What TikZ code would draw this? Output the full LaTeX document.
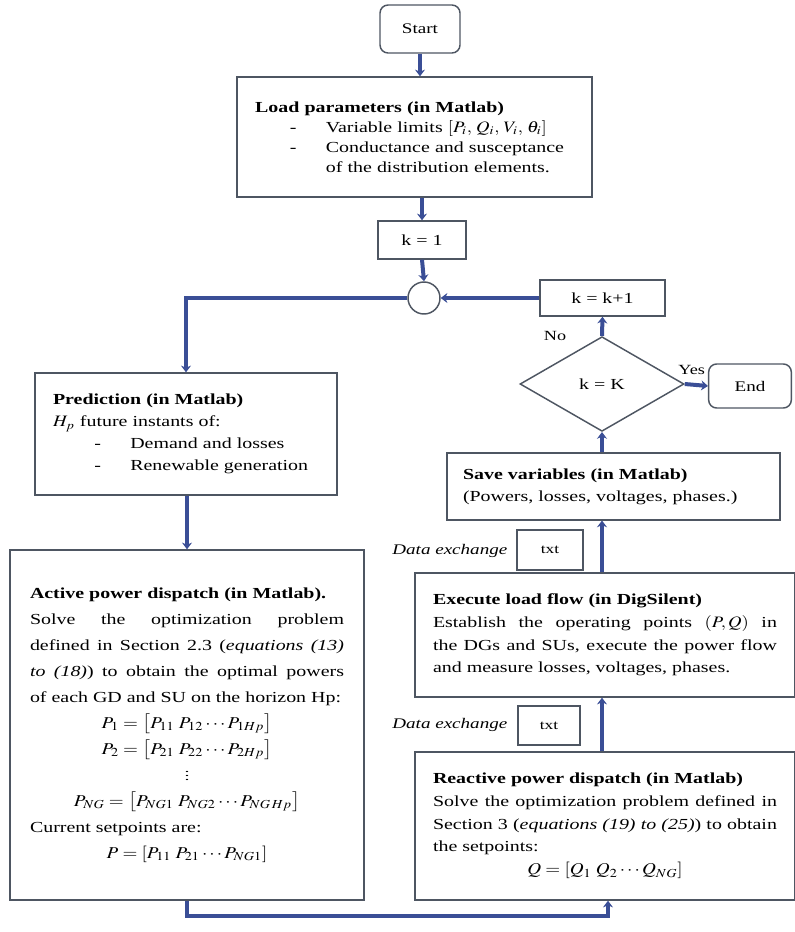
\documentclass[tikz,border=0pt]{standalone}
\usepackage{mathptmx}
\usepackage{fontspec}
\setmainfont{Liberation Serif}[FakeStretch=1.3]
\usetikzlibrary{shapes.geometric, arrows.meta}

\definecolor{flowblue}{RGB}{58,78,150}
\definecolor{boxgrey}{RGB}{78,86,98}

\tikzstyle{startstop} = [rectangle, rounded corners=6pt, minimum width=60pt, minimum height=36pt, text centered, draw=boxgrey, line width=1.1pt, font=\fontsize{11}{13}\selectfont]
\tikzstyle{process} = [rectangle, draw=boxgrey, line width=1.1pt, fill=white, font=\fontsize{11.5}{17}\selectfont]
\tikzstyle{decision} = [diamond, aspect=1.73, minimum width=123pt, minimum height=71pt, inner sep=0pt, draw=boxgrey, line width=1.1pt, font=\fontsize{11.5}{14}\selectfont]
\tikzstyle{junction} = [circle, minimum size=24pt, inner sep=0pt, draw=boxgrey, line width=1.1pt]
\tikzstyle{note} = [font=\fontsize{11}{13}\selectfont\itshape]
\tikzstyle{arrow} = [line width=3pt, draw=flowblue, -{Stealth[length=5pt,width=7.5pt]}]

\newcommand{\listdash}[1]{\hspace*{#1}\makebox[27pt][l]{-}}
% wide math, to sit with the stretched text face
\newcommand{\wm}[1]{\scalebox{1.22}[1.04]{$#1$}}
\newcommand{\eqline}[1]{\centerline{\scalebox{1.25}[1.08]{$#1$}}}

\begin{document}
\begin{tikzpicture}[x=0.75pt, y=-0.75pt]
\useasboundingbox (0,0) rectangle (795,932);

% main column
\node (start) [startstop] at (420,29) {Start};
\node (load) [process, text width=239pt, inner xsep=13.5pt, minimum height=90pt, align=left, font=\fontsize{11.5}{15}\selectfont] at (414.5,137)
  {\textbf{Load parameters (in Matlab)}\\
   \listdash{26pt}Variable limits \wm{[P_i,\, Q_i,\, V_i,\, \theta_i]}\\
   \listdash{26pt}Conductance and susceptance\\
   \hspace*{53pt}of the distribution elements.};
\node (k1) [process, minimum width=66pt, minimum height=28.5pt] at (422,240) {k = 1};
\node (circ) [junction] at (424,298) {};

% left branch
\node (pred) [process, text width=199.5pt, inner xsep=13.5pt, minimum height=91.5pt, align=left, font=\fontsize{11.5}{16.5}\selectfont] at (186,434)
  {\textbf{Prediction (in Matlab)}\\
   \wm{H_p} future instants of:\\
   \listdash{31pt}Demand and losses\\
   \listdash{31pt}Renewable generation};
\node (active) [process, text width=235.5pt, inner xsep=15pt, minimum height=262.5pt, align=justify, font=\fontsize{11.5}{19.5}\selectfont] at (187,725)
  {\textbf{Active power dispatch (in Matlab).}\\
   Solve the optimization problem\linebreak
   defined in Section 2.3 (\textit{equations (13)\linebreak
   to (18)}) to obtain the optimal powers\linebreak
   of each GD and SU on the horizon Hp:\par
   \eqline{P_1 = \bigl[P_{11}\; P_{12} \cdots P_{1Hp}\bigr]}
   \eqline{P_2 = \bigl[P_{21}\; P_{22} \cdots P_{2Hp}\bigr]}
   \centerline{\scalebox{1}[0.75]{$\vdots$}}
   \eqline{P_{NG} = \bigl[P_{NG1}\; P_{NG2} \cdots P_{NG\,Hp}\bigr]}
   Current setpoints are:\par
   \eqline{P = [P_{11}\; P_{21} \cdots P_{NG1}]}};

% right branch
\node (kk) [process, minimum width=94pt, minimum height=27pt] at (602.5,298) {k = k+1};
\node (dec) [decision] at (602,384) {k = K};
\node (endn) [startstop, minimum width=62pt, minimum height=33pt] at (750,386) {End};
\node (save) [process, text width=225.75pt, inner xsep=12pt, minimum height=50pt, align=left, font=\fontsize{11.5}{16.5}\selectfont] at (613.5,486.5)
  {\textbf{Save variables (in Matlab)}\\
   (Powers, losses, voltages, phases.)};
\node (txta) [process, minimum width=49.5pt, minimum height=30pt, font=\fontsize{10}{12}\selectfont] at (550,550) {txt};
\node (dxa) [note, anchor=east] at (512,551) {Data exchange};
\node (exec) [process, text width=258pt, inner xsep=13.5pt, minimum height=93pt, align=justify, font=\fontsize{11.5}{17}\selectfont] at (605,635)
  {\textbf{Execute load flow (in DigSilent)}\\
   Establish the operating points \wm{(P, Q)} in\linebreak
   the DGs and SUs, execute the power flow\linebreak
   and measure losses, voltages, phases.};
\node (txtb) [process, minimum width=46.5pt, minimum height=29pt, font=\fontsize{10}{12}\selectfont] at (549,725.5) {txt};
\node (dxb) [note, anchor=east] at (512,725) {Data exchange};
\node (react) [process, text width=258pt, inner xsep=13.5pt, minimum height=111pt, align=justify, font=\fontsize{11.5}{17}\selectfont] at (605,826)
  {\textbf{Reactive power dispatch (in Matlab)}\\
   Solve the optimization problem defined in Section 3 (\textit{equations (19) to (25)}) to obtain the setpoints:\par
   \eqline{Q = [Q_1\; Q_2 \cdots Q_{NG}]}};

% connectors
\draw [arrow] (start.south) -- (start.south |- load.north);
\draw [arrow] (k1.north |- load.south) -- (k1.north);
\draw [arrow] (k1.south) -- (circ.north);
\draw [arrow] (kk.west) -- (circ.east);
\draw [arrow] (circ.west) -| (pred.north);
\draw [arrow] (pred.south -| active.north) -- (active.north);
\draw [arrow] (active.south) -- ++(0,15) -| ([xshift=2.25pt]react.south);
\draw [arrow] (react.north -| dec.south) -- (exec.south -| dec.south);
\draw [arrow] (exec.north -| dec.south) -- (save.south -| dec.south);
\draw [arrow] (save.north -| dec.south) -- (dec.south);
\draw [arrow] (dec.north) -- node[pos=0, left=22pt, font=\fontsize{10.5}{12}\selectfont] {No} (kk.south);
\draw [arrow] (dec.east) -- node[above=3pt, pos=0.3, font=\fontsize{10.5}{12}\selectfont] {Yes} (endn.west);
\end{tikzpicture}
\end{document}
